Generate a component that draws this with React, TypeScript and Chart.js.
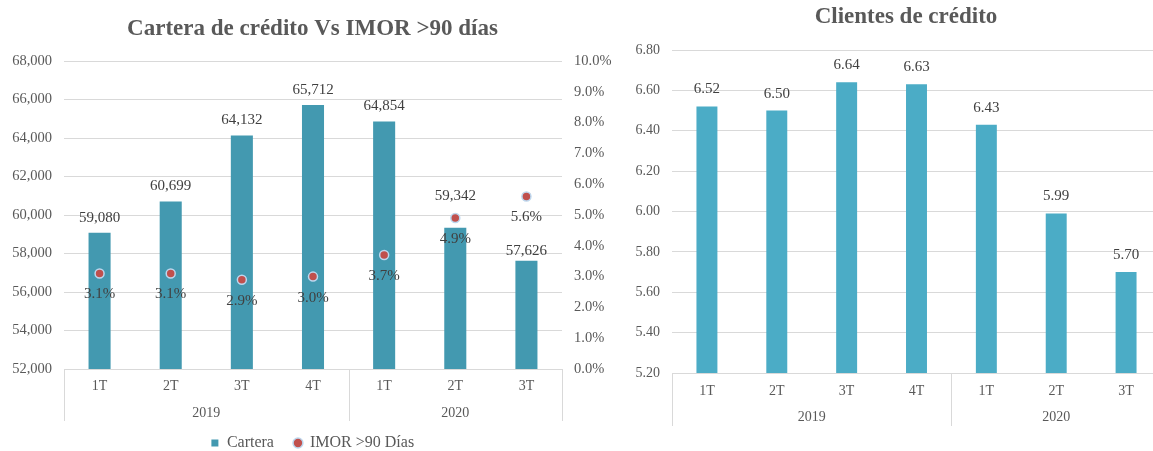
import React, { useEffect, useRef } from "react";
import { Chart, registerables } from "chart.js";

Chart.register(...registerables);

// ---------- data ----------
const quarterLabels = ["1T", "2T", "3T", "4T", "1T", "2T", "3T"];
const yearLabels = ["2019", "2020"];
const yearSpans = [4, 3];
const carteraValues = [59080, 60699, 64132, 65712, 64854, 59342, 57626];
const imorValues = [3.1, 3.1, 2.9, 3.0, 3.7, 4.9, 5.6];
const clientesValues = [6.52, 6.5, 6.64, 6.63, 6.43, 5.99, 5.7];
const carteraTicks = { min: 52000, max: 68000, step: 2000 };
const imorTicks = { min: 0, max: 10, step: 1 };
const clientesTicks = { min: 5.2, max: 6.8, step: 0.2 };

const leftTitle = "Cartera de crédito Vs IMOR >90 días";
const rightTitle = "Clientes de crédito";
const carteraName = "Cartera";
const imorName = "IMOR >90 Días";

// ---------- styles ----------
const FONT = '"Liberation Serif", "Times New Roman", Times, serif';
const TEXT = "#595959";
const LABEL = "#404040";
const GRID = "#D9D9D9";

Chart.defaults.font.family = FONT;
Chart.defaults.color = TEXT;

const valueLabelPlugin = {
  id: "valueLabels",
  afterDatasetsDraw(chart: any, _args: any, opts: any) {
    const ctx = chart.ctx;
    (opts.items || []).forEach((item: any) => {
      const meta = chart.getDatasetMeta(item.dataset);
      const data = chart.data.datasets[item.dataset].data;
      ctx.save();
      ctx.font = `${item.size}px ${FONT}`;
      ctx.fillStyle = item.color;
      ctx.textAlign = "center";
      ctx.textBaseline = "middle";
      meta.data.forEach((el: any, i: number) => {
        const extra = (item.nudge && item.nudge[i]) || 0;
        const y = item.below ? el.y + item.offset : el.y - item.offset - extra;
        ctx.fillText(item.format(data[i]), el.x, y);
      });
      ctx.restore();
    });
  },
};

const groupAxisPlugin = {
  id: "groupAxis",
  afterDraw(chart: any, _args: any, opts: any) {
    const x = chart.scales.x;
    const ctx = chart.ctx;
    const area = chart.chartArea;
    const half = (x.getPixelForValue(1) - x.getPixelForValue(0)) / 2;
    const bottom = area.bottom + opts.lineLength;
    ctx.save();
    ctx.strokeStyle = opts.lineColor;
    ctx.lineWidth = 1;
    const drawV = (px: number) => {
      const xx = Math.round(px) + 0.5;
      ctx.beginPath();
      ctx.moveTo(xx, area.bottom);
      ctx.lineTo(xx, bottom);
      ctx.stroke();
    };
    ctx.font = `${opts.size}px ${FONT}`;
    ctx.fillStyle = opts.color;
    ctx.textAlign = "center";
    ctx.textBaseline = "middle";
    let start = 0;
    drawV(x.getPixelForValue(0) - half);
    opts.groups.forEach((g: string, gi: number) => {
      const end = start + opts.spans[gi] - 1;
      const left = x.getPixelForValue(start) - half;
      const right = x.getPixelForValue(end) + half;
      drawV(right);
      ctx.fillText(g, (left + right) / 2, area.bottom + opts.labelOffset);
      start = end + 1;
    });
    ctx.restore();
  },
};

function CarteraChart() {
  const ref = useRef<HTMLCanvasElement>(null);
  useEffect(() => {
    const chart = new Chart(ref.current as HTMLCanvasElement, {
      type: "bar",
      data: {
        labels: quarterLabels,
        datasets: [
          {
            type: "bar",
            label: carteraName,
            data: carteraValues,
            backgroundColor: "#4399B0",
            borderWidth: 0,
            barPercentage: 0.31,
            categoryPercentage: 1,
            yAxisID: "y",
            order: 2,
            pointStyle: "rect",
          } as any,
          {
            type: "line",
            label: imorName,
            data: imorValues,
            yAxisID: "y2",
            showLine: false,
            pointRadius: 4.5,
            pointBackgroundColor: "#C0504D",
            pointBorderColor: "#BDD7EE",
            pointBorderWidth: 1.5,
            backgroundColor: "#C0504D",
            borderColor: "#BDD7EE",
            pointStyle: "circle",
            order: 1,
          } as any,
        ],
      },
      options: {
        responsive: false,
        animation: false,
        devicePixelRatio: 1,
        events: [],
        layout: { padding: 0 },
        scales: {
          x: {
            grid: { display: false, drawTicks: false },
            border: { display: false },
            ticks: { font: { size: 14, family: FONT }, color: TEXT, padding: 9 },
            afterFit: (s: any) => {
              s.height = 46;
            },
          },
          y: {
            position: "left",
            min: carteraTicks.min,
            max: carteraTicks.max,
            grid: { color: GRID, drawTicks: false },
            border: { display: false },
            ticks: {
              stepSize: carteraTicks.step,
              padding: 12,
              font: { size: 14.5, family: FONT },
              color: TEXT,
              callback: (v: any) => Number(v).toLocaleString("en-US"),
            },
            afterFit: (s: any) => {
              s.width = 64;
            },
          },
          y2: {
            position: "right",
            min: imorTicks.min,
            max: imorTicks.max,
            grid: { display: false, drawTicks: false },
            border: { display: false },
            ticks: {
              stepSize: imorTicks.step,
              padding: 12,
              font: { size: 14.5, family: FONT },
              color: TEXT,
              callback: (v: any) => Number(v).toFixed(1) + "%",
            },
            afterFit: (s: any) => {
              s.width = 63;
            },
          },
        },
        plugins: {
          tooltip: { enabled: false },
          title: {
            display: true,
            text: leftTitle,
            color: TEXT,
            font: { size: 23, weight: "bold", family: FONT },
            padding: { top: 15.5, bottom: 17.9 },
          },
          legend: {
            display: true,
            position: "bottom",
            labels: {
              usePointStyle: true,
              boxWidth: 8,
              boxHeight: 7,
              padding: 20,
              color: TEXT,
              font: { size: 16, family: FONT },
              sort: (a: any, b: any) => a.datasetIndex - b.datasetIndex,
            },
          },
          valueLabels: {
            items: [
              {
                dataset: 0,
                size: 15,
                color: LABEL,
                offset: 15,
                below: false,
                nudge: [0, 0, 0, 0, 0, 17, -5],
                format: (v: number) => v.toLocaleString("en-US"),
              },
              {
                dataset: 1,
                size: 15,
                color: LABEL,
                offset: 21,
                below: true,
                format: (v: number) => v.toFixed(1) + "%",
              },
            ],
          },
          groupAxis: {
            groups: yearLabels,
            spans: yearSpans,
            lineLength: 52,
            labelOffset: 44,
            lineColor: GRID,
            color: TEXT,
            size: 14,
          },
        } as any,
      },
      plugins: [valueLabelPlugin, groupAxisPlugin],
    });
    return () => chart.destroy();
  }, []);
  return <canvas ref={ref} width={625} height={461} style={{ display: "block", width: 625, height: 461 }} />;
}

function ClientesChart() {
  const ref = useRef<HTMLCanvasElement>(null);
  useEffect(() => {
    const chart = new Chart(ref.current as HTMLCanvasElement, {
      type: "bar",
      data: {
        labels: quarterLabels,
        datasets: [
          {
            label: "Clientes",
            data: clientesValues,
            backgroundColor: "#4BACC6",
            borderWidth: 0,
            barPercentage: 0.3,
            categoryPercentage: 1,
            yAxisID: "y",
          },
        ],
      },
      options: {
        responsive: false,
        animation: false,
        devicePixelRatio: 1,
        events: [],
        layout: { padding: 0 },
        scales: {
          x: {
            grid: { display: false, drawTicks: false },
            border: { display: false },
            ticks: { font: { size: 14, family: FONT }, color: TEXT, padding: 10 },
            afterFit: (s: any) => {
              s.height = 78;
            },
          },
          y: {
            position: "left",
            min: clientesTicks.min,
            max: clientesTicks.max,
            grid: { color: GRID, drawTicks: false },
            border: { display: false },
            ticks: {
              stepSize: clientesTicks.step,
              padding: 12,
              font: { size: 14, family: FONT },
              color: TEXT,
              callback: (v: any) => Number(v).toFixed(2),
            },
            afterFit: (s: any) => {
              s.width = 72;
            },
          },
          yPad: {
            position: "right",
            display: true,
            grid: { display: false, drawTicks: false },
            border: { display: false },
            ticks: { display: false },
            afterFit: (s: any) => {
              s.width = 51;
            },
          },
        },
        plugins: {
          tooltip: { enabled: false },
          legend: { display: false },
          title: {
            display: true,
            text: rightTitle,
            color: TEXT,
            font: { size: 23, weight: "bold", family: FONT },
            padding: { top: 3.7, bottom: 18.7 },
          },
          valueLabels: {
            items: [
              {
                dataset: 0,
                size: 15,
                color: LABEL,
                offset: 17,
                below: false,
                format: (v: number) => v.toFixed(2),
              },
            ],
          },
          groupAxis: {
            groups: yearLabels,
            spans: yearSpans,
            lineLength: 53,
            labelOffset: 44,
            lineColor: GRID,
            color: TEXT,
            size: 14,
          },
        } as any,
      },
      plugins: [valueLabelPlugin, groupAxisPlugin],
    });
    return () => chart.destroy();
  }, []);
  return <canvas ref={ref} width={612} height={451} style={{ display: "block", width: 612, height: 451 }} />;
}

export default function App() {
  return (
    <div
      style={{
        position: "absolute",
        left: 0,
        top: 0,
        width: 1153,
        height: 451,
        overflow: "hidden",
        background: "#ffffff",
      }}
    >
      <div style={{ position: "absolute", left: 0, top: 0, width: 625, height: 461 }}>
        <CarteraChart />
      </div>
      <div style={{ position: "absolute", left: 600, top: 0, width: 612, height: 451 }}>
        <ClientesChart />
      </div>
    </div>
  );
}
